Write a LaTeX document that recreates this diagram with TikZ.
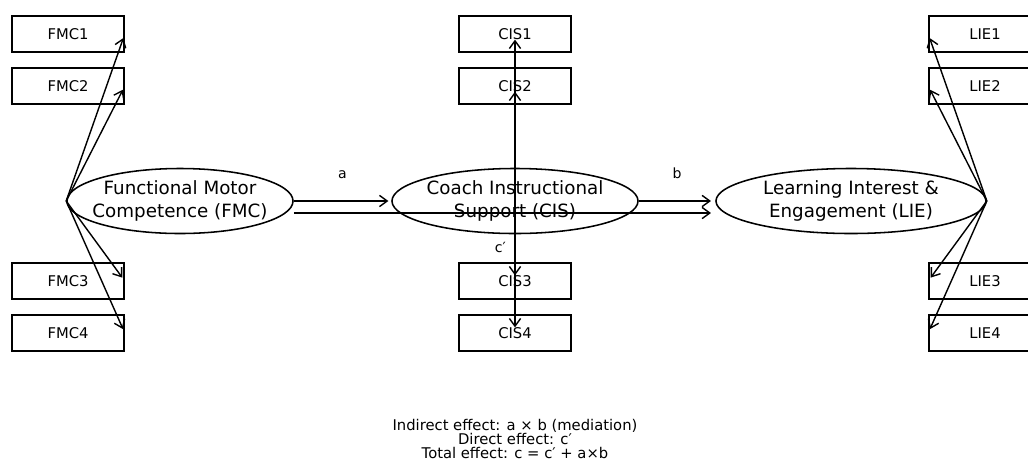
\documentclass[tikz,border=0pt]{standalone}
\usepackage{fontspec}
\setmainfont{DejaVu Sans}
\usepackage{tikz}
\usetikzlibrary{shapes.geometric, arrows.meta, positioning, calc}

\begin{document}
\begin{tikzpicture}[x=0.025cm, y=-0.025cm,
        indicator/.style={draw, line width=1.1pt, minimum width=2.8cm, minimum height=0.9cm, inner sep=0pt, font=\fontsize{10.5}{12}\selectfont},
        latent/.style={draw, ellipse, line width=1.1pt, minimum height=1.625cm, inner sep=-0.6cm, align=center, font=\fontsize{13}{16}\selectfont},
        path/.style={-{Straight Barb[length=5.5pt, width=8pt]}, line width=1pt},
        load/.style={-{Straight Barb[length=5.5pt, width=8pt]}, line width=1pt, shorten >=3pt}]
        \clip (0, 0) rectangle (1028, 463);
        \useasboundingbox (0, 0) rectangle (1028, 463);

        % Latent constructs
        \node[latent, minimum width=5.65cm] (fmc) at (180, 201) {Functional Motor\\Competence (FMC)};
        \node[latent, minimum width=6.15cm] (cis) at (515, 201) {Coach Instructional\\Support (CIS)};
        \node[latent, minimum width=6.75cm] (lie) at (851, 201) {Learning Interest \&\\Engagement (LIE)};

        % FMC indicators
        \node[indicator] (fmc1) at (68, 34) {FMC1};
        \node[indicator] (fmc2) at (68, 86) {FMC2};
        \node[indicator] (fmc3) at (68, 281) {FMC3};
        \node[indicator] (fmc4) at (68, 333) {FMC4};

        % CIS indicators
        \node[indicator] (cis1) at (515, 34) {CIS1};
        \node[indicator] (cis2) at (515, 86) {CIS2};
        \node[indicator] (cis3) at (515, 281) {CIS3};
        \node[indicator] (cis4) at (515, 333) {CIS4};

        % LIE indicators
        \node[indicator] (lie1) at (985, 34) {LIE1};
        \node[indicator] (lie2) at (985, 86) {LIE2};
        \node[indicator] (lie3) at (985, 281) {LIE3};
        \node[indicator] (lie4) at (985, 333) {LIE4};

        % Loadings
        \draw[load] (fmc.west) -- (fmc1.east);
        \draw[load] (fmc.west) -- (fmc2.east);
        \draw[load] (fmc.west) -- (fmc3.east);
        \draw[load] (fmc.west) -- (fmc4.east);
        \draw[load, shorten >=4pt] (cis.center) -- (cis1.center);
        \draw[load, shorten >=4pt] (cis.center) -- (cis2.center);
        \draw[load, shorten >=4pt] (cis.center) -- (cis3.center);
        \draw[load, shorten >=4pt] (cis.center) -- (cis4.center);
        \draw[load] (lie.east) -- (lie1.west);
        \draw[load] (lie.east) -- (lie2.west);
        \draw[load] (lie.east) -- (lie3.west);
        \draw[load] (lie.east) -- (lie4.west);

        % Structural paths
        \draw[path, shorten >=2pt] (fmc.east) -- node[midway, above=0.42cm, font=\fontsize{10}{12}\selectfont] {a} (cis.west);
        \draw[path, shorten >=3pt] (cis.east) -- node[midway, above=0.42cm, font=\fontsize{10}{12}\selectfont] {b} (lie.west);
        \coordinate (cstart) at ($(fmc.east)+(0, 12)$);
        \coordinate (cend) at ($(lie.west)+(0, 12)$);
        \draw[path, shorten >=3pt] (cstart) -- node[midway, below=0.6cm, xshift=-3pt, font=\fontsize{10}{12}\selectfont] {c′} (cend);

        % Effects summary
        \node[align=center, font=\fontsize{10.5}{10}\selectfont] (effects) at (515, 439) {Indirect effect: a × b (mediation)\\Direct effect: c′\\Total effect: c = c′ + a×b};
    \end{tikzpicture}
\end{document}
